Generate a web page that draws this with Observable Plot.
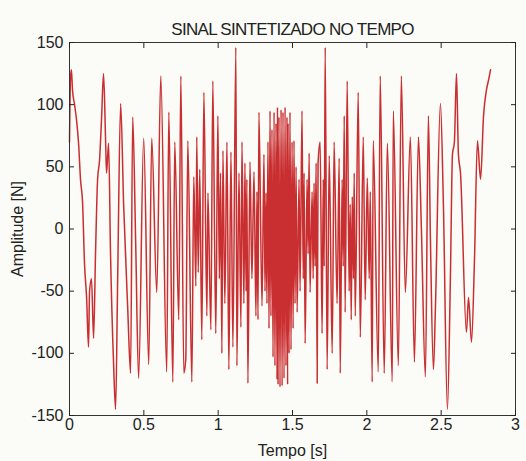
<!DOCTYPE html>
<html><head><meta charset="utf-8">
<script src="https://cdn.jsdelivr.net/npm/d3@7"></script>
<script src="https://cdn.jsdelivr.net/npm/@observablehq/plot@0.6"></script>
<style>body{margin:0;background:#fbfbf7;}</style>
</head><body><div id="chart"></div>
<script>
const time = [0.000,0.007,0.013,0.020,0.034,0.047,0.061,0.074,0.088,0.101,0.115,0.128,0.135,0.148,0.162,0.175,0.189,0.202,0.216,0.229,0.243,0.249,0.263,0.276,0.297,0.310,0.324,0.344,0.364,0.391,0.411,0.425,0.445,0.465,0.499,0.533,0.553,0.587,0.614,0.654,0.668,0.695,0.708,0.735,0.749,0.769,0.782,0.796,0.823,0.836,0.850,0.856,0.866,0.876,0.890,0.904,0.924,0.931,0.951,0.964,0.984,0.998,1.008,1.016,1.025,1.032,1.045,1.059,1.072,1.086,1.099,1.119,1.126,1.140,1.153,1.160,1.173,1.180,1.188,1.193,1.200,1.214,1.227,1.241,1.254,1.261,1.268,1.274,1.295,1.308,1.315,1.322,1.328,1.335,1.342,1.349,1.355,1.362,1.369,1.376,1.382,1.389,1.396,1.399,1.403,1.409,1.416,1.423,1.430,1.436,1.443,1.450,1.456,1.463,1.467,1.470,1.477,1.483,1.490,1.497,1.504,1.510,1.517,1.524,1.531,1.544,1.551,1.564,1.572,1.578,1.585,1.598,1.605,1.612,1.618,1.632,1.639,1.645,1.652,1.659,1.666,1.672,1.686,1.699,1.707,1.713,1.720,1.733,1.747,1.767,1.780,1.800,1.814,1.821,1.834,1.841,1.848,1.854,1.868,1.881,1.888,1.895,1.902,1.910,1.915,1.922,1.942,1.956,1.976,1.989,2.003,2.016,2.023,2.036,2.043,2.077,2.090,2.117,2.138,2.171,2.178,2.212,2.232,2.259,2.293,2.320,2.347,2.367,2.394,2.414,2.428,2.448,2.461,2.495,2.515,2.542,2.562,2.576,2.589,2.603,2.616,2.630,2.670,2.684,2.704,2.724,2.744,2.765,2.785,2.805,2.819,2.832];
const amplitude = [70,122,128,112,100,88,69,40,21,-28,-55,-95,-50,-40,-88,-20,40,55,90,125,70,45,69,-20,-110,-145,-40,101,20,-62,-116,90,-10,-120,73,-109,73,-51,123,-115,94,-123,70,-73,123,-116,-105,71,-123,42,-46,74,-35,48,-89,110,-70,29,-81,119,-84,91,-40,45,-100,63,-60,70,-113,62,-95,146,-110,45,-79,70,-60,53,-50,40,-124,54,-40,46,-70,30,-73,94,-62,60,-50,29,-60,70,-80,95,-70,80,-103,94,-110,85,-121,98,-125,90,-127,96,-126,94,-120,98,-110,90,-125,85,-100,94,-97,70,-80,71,-60,50,-67,40,-50,95,-40,45,-92,40,-20,61,-51,30,-40,37,-30,53,-124,53,70,-84,40,-30,146,-113,59,-100,70,-60,57,-116,40,-30,91,-67,119,-50,20,-73,26,-40,45,-70,110,-87,74,-57,41,-40,30,-123,71,-115,123,-116,69,-123,95,-110,123,-51,74,-107,74,0,-119,91,-10,-113,-65,101,20,-145,-40,60,70,125,60,45,-83,-55,-91,-25,71,40,91,112,120,128];
const xTicks = [0, 0.5, 1, 1.5, 2, 2.5, 3];
const yTicks = [-150, -100, -50, 0, 50, 100, 150];
const titleText = "SINAL SINTETIZADO NO TEMPO";
const xLabel = "Tempo [s]";
const yLabel = "Amplitude [N]";

const data = time.map((t, i) => ({t, a: amplitude[i]}));
const chart = Plot.plot({
  width: 526, height: 461,
  marginLeft: 69, marginRight: 11, marginTop: 42, marginBottom: 46,
  style: {fontFamily: "'Liberation Sans', Arial, sans-serif", fontSize: "16px", background: "#fbfbf7", color: "#222"},
  x: {domain: [0, 3]},
  y: {domain: [-150, 150]},
  marks: [
    Plot.line(data, {x: "t", y: "a", stroke: "#c92e30", strokeWidth: 1.5, curve: "monotone-x"}),
    Plot.frame({stroke: "#333"}),
    Plot.axisX(xTicks, {anchor: "bottom", tickSize: -5, tickPadding: 8, tickFormat: d => String(d), label: xLabel, labelAnchor: "center", labelArrow: "none", labelOffset: 40}),
    Plot.axisX(xTicks, {anchor: "top", tickSize: -5, tickFormat: () => "", label: null}),
    Plot.axisY(yTicks, {anchor: "left", tickSize: -5, tickPadding: 11, tickFormat: d => String(d), label: yLabel, labelAnchor: "center", labelArrow: "none", labelOffset: 58}),
    Plot.axisY(yTicks, {anchor: "right", tickSize: -5, tickFormat: () => "", label: null}),
    Plot.text([titleText], {frameAnchor: "top", dy: -20, fontSize: 17, className: "ttl"})
  ]
});
document.getElementById("chart").appendChild(chart);
d3.select(chart).selectAll(".ttl text").style("letter-spacing", "-0.7px");
</script>
</body></html>
